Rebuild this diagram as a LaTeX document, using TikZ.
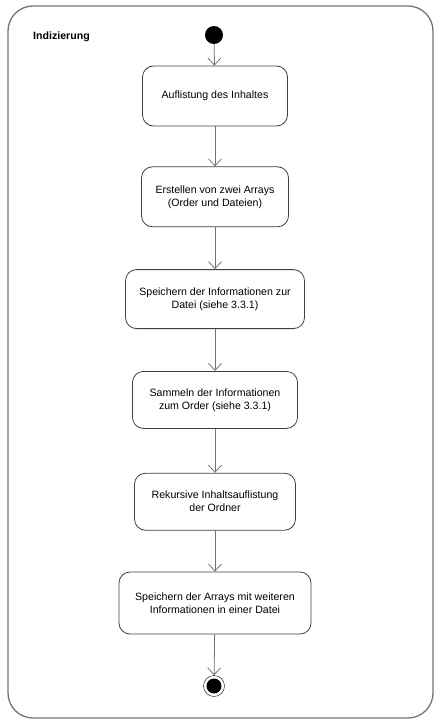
\documentclass[tikz,border=0pt]{standalone}
\usepackage{fontspec}
\setmainfont{Liberation Sans}
\usetikzlibrary{arrows.meta, positioning}

\begin{document}
\begin{tikzpicture}[
    x=1pt, y=-1pt,
    every node/.style={font=\fontsize{10.6}{13}\selectfont},
    activity/.style={rectangle, draw=black!75, thick, fill=white, rounded corners=11pt,
                     align=center, inner sep=2pt},
    flow/.style={-{Straight Barb[length=7pt, width=13pt]}, draw=black!55, thick}
]
\useasboundingbox (0,0) rectangle (441,725);

% Frame
\draw[black!55, line width=1.3pt, rounded corners=25pt] (8,6) rectangle (433,718);
\node[anchor=west, inner sep=0pt, font=\fontsize{10.6}{13}\selectfont\bfseries] (title) at (33,37) {Indizierung};

% Start and activities
\node[circle, fill=black, inner sep=0pt, minimum size=18pt] (start) at (214,35) {};
\node[activity, minimum width=145pt, minimum height=60pt] (a1) at (215,96) {Auflistung des Inhaltes};
\node[activity, minimum width=147pt, minimum height=60pt, below=40pt of a1] (a2) {Erstellen von zwei Arrays\\(Order und Dateien)};
\node[activity, minimum width=179pt, minimum height=59pt, below=42pt of a2] (a3) {Speichern der Informationen zur\\Datei (siehe 3.3.1)};
\node[activity, minimum width=165pt, minimum height=57pt, below=42pt of a3] (a4) {Sammeln der Informationen\\zum Order (siehe 3.3.1)};
\node[activity, minimum width=161pt, minimum height=57pt, below=44pt of a4] (a5) {Rekursive Inhaltsauflistung\\der Ordner};
\node[activity, minimum width=192pt, minimum height=62pt, below=41pt of a5] (a6) {Speichern der Arrays mit weiteren\\Informationen in einer Datei};

% End
\node[circle, draw=black, fill=white, inner sep=0pt, minimum size=21pt] (stop) at (214,686) {};
\node[circle, fill=black, inner sep=0pt, minimum size=15pt] at (stop) {};

% Flows
\draw[flow] (start) -- (a1);
\draw[flow] (a1) -- (a2);
\draw[flow] (a2) -- (a3);
\draw[flow] (a3) -- (a4);
\draw[flow] (a4) -- (a5);
\draw[flow] (a5) -- (a6);
\draw[flow] (a6) -- (stop);

\end{tikzpicture}
\end{document}
